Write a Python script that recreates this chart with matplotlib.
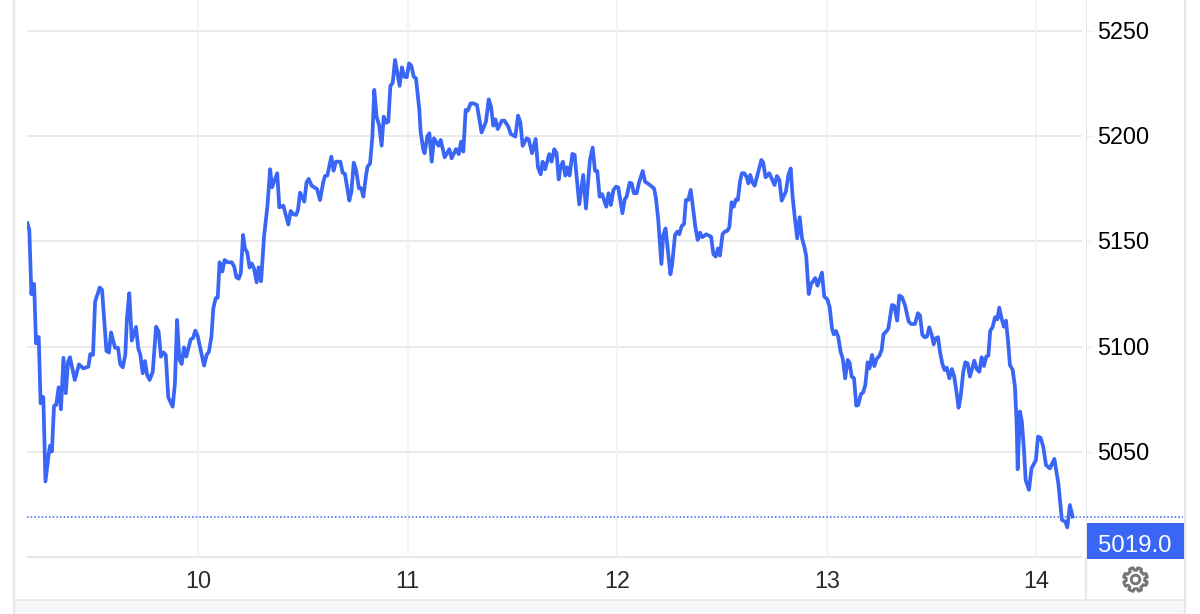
import numpy as np
import matplotlib
matplotlib.use("Agg")
import matplotlib.pyplot as plt
from matplotlib.patches import Rectangle, Polygon, Circle
from matplotlib.transforms import ScaledTranslation

plt.rcParams["font.family"] = ["Liberation Sans", "DejaVu Sans"]

days = [
    9.186, 9.195, 9.205, 9.210, 9.213, 9.218, 9.227, 9.233, 9.240, 9.249,
    9.256, 9.262, 9.272, 9.288, 9.294, 9.303, 9.313, 9.323, 9.335, 9.346,
    9.358, 9.369, 9.380, 9.389, 9.412, 9.432, 9.453, 9.477, 9.486, 9.499,
    9.509, 9.531, 9.542, 9.563, 9.575, 9.585, 9.604, 9.618, 9.629, 9.641,
    9.653, 9.661, 9.672, 9.684, 9.704, 9.715, 9.725, 9.736, 9.747, 9.757,
    9.769, 9.784, 9.800, 9.812, 9.823, 9.835, 9.846, 9.858, 9.879, 9.890,
    9.900, 9.911, 9.922, 9.933, 9.944, 9.965, 9.976, 9.987, 9.997, 10.029,
    10.041, 10.052, 10.064, 10.073, 10.084, 10.094, 10.103, 10.116, 10.127, 10.140,
    10.161, 10.173, 10.183, 10.194, 10.204, 10.215, 10.224, 10.235, 10.246, 10.256,
    10.267, 10.280, 10.289, 10.301, 10.315, 10.331, 10.344, 10.353, 10.363, 10.378,
    10.388, 10.407, 10.431, 10.442, 10.455, 10.468, 10.477, 10.487, 10.507, 10.518,
    10.528, 10.542, 10.568, 10.582, 10.598, 10.606, 10.617, 10.636, 10.647, 10.658,
    10.679, 10.690, 10.701, 10.722, 10.732, 10.743, 10.754, 10.768, 10.779, 10.789,
    10.802, 10.809, 10.821, 10.832, 10.841, 10.852, 10.864, 10.876, 10.886, 10.897,
    10.908, 10.918, 10.929, 10.940, 10.951, 10.962, 10.973, 10.984, 10.996, 11.007,
    11.018, 11.029, 11.040, 11.056, 11.062, 11.075, 11.081, 11.094, 11.104, 11.115,
    11.126, 11.147, 11.158, 11.177, 11.199, 11.210, 11.231, 11.244, 11.255, 11.266,
    11.277, 11.287, 11.301, 11.314, 11.331, 11.353, 11.374, 11.387, 11.398, 11.409,
    11.419, 11.430, 11.450, 11.462, 11.481, 11.492, 11.514, 11.527, 11.538, 11.549,
    11.568, 11.578, 11.594, 11.611, 11.622, 11.635, 11.644, 11.656, 11.676, 11.687,
    11.700, 11.711, 11.721, 11.730, 11.741, 11.753, 11.762, 11.773, 11.786, 11.797,
    11.819, 11.838, 11.851, 11.870, 11.883, 11.894, 11.905, 11.916, 11.928, 11.948,
    11.959, 11.970, 11.982, 11.994, 12.005, 12.025, 12.036, 12.045, 12.060, 12.069,
    12.080, 12.093, 12.104, 12.122, 12.133, 12.152, 12.176, 12.185, 12.196, 12.211,
    12.220, 12.231, 12.254, 12.262, 12.276, 12.287, 12.296, 12.308, 12.319, 12.328,
    12.339, 12.351, 12.360, 12.373, 12.384, 12.395, 12.406, 12.425, 12.448, 12.459,
    12.470, 12.481, 12.490, 12.503, 12.514, 12.525, 12.535, 12.546, 12.556, 12.567,
    12.576, 12.586, 12.595, 12.607, 12.618, 12.626, 12.635, 12.646, 12.656, 12.688,
    12.697, 12.708, 12.726, 12.751, 12.762, 12.774, 12.785, 12.805, 12.817, 12.828,
    12.837, 12.847, 12.859, 12.871, 12.882, 12.893, 12.902, 12.914, 12.925, 12.945,
    12.956, 12.977, 12.988, 13.003, 13.014, 13.025, 13.033, 13.044, 13.055, 13.066,
    13.076, 13.088, 13.100, 13.109, 13.119, 13.130, 13.141, 13.150, 13.163, 13.173,
    13.184, 13.195, 13.204, 13.216, 13.227, 13.238, 13.251, 13.262, 13.271, 13.284,
    13.294, 13.311, 13.322, 13.336, 13.346, 13.359, 13.373, 13.391, 13.403, 13.421,
    13.435, 13.445, 13.456, 13.467, 13.478, 13.489, 13.500, 13.510, 13.519, 13.531,
    13.540, 13.551, 13.562, 13.573, 13.585, 13.597, 13.608, 13.620, 13.629, 13.639,
    13.651, 13.661, 13.672, 13.683, 13.704, 13.715, 13.728, 13.739, 13.750, 13.761,
    13.771, 13.780, 13.791, 13.803, 13.814, 13.823, 13.834, 13.845, 13.855, 13.866,
    13.874, 13.887, 13.898, 13.906, 13.911, 13.922, 13.931, 13.941, 13.949, 13.965,
    13.977, 13.998, 14.008, 14.020, 14.033, 14.046, 14.065, 14.086, 14.105, 14.122,
    14.138, 14.148, 14.160, 14.173,
]

prices = [
    5158.6, 5155.5, 5125.0, 5129.8, 5125.0, 5129.8, 5101.6, 5104.8, 5104.5, 5073.1,
    5076.3, 5076.0, 5036.0, 5049.4, 5053.0, 5050.2, 5071.9, 5072.3, 5080.7, 5070.3,
    5094.7, 5077.9, 5092.9, 5095.0, 5084.2, 5091.6, 5089.7, 5090.5, 5096.5, 5096.1,
    5121.4, 5128.1, 5127.0, 5098.0, 5097.2, 5106.8, 5099.5, 5099.5, 5091.6, 5090.2,
    5096.1, 5113.5, 5125.4, 5102.9, 5109.4, 5099.2, 5096.1, 5087.4, 5093.2, 5086.6,
    5084.2, 5088.1, 5109.5, 5107.2, 5095.3, 5097.3, 5096.1, 5076.0, 5071.5, 5082.6,
    5112.7, 5094.0, 5091.8, 5099.7, 5095.3, 5103.5, 5104.1, 5107.6, 5105.6, 5091.0,
    5096.1, 5097.6, 5104.8, 5118.2, 5123.0, 5123.3, 5140.1, 5135.7, 5141.2, 5140.1,
    5140.1, 5138.0, 5133.0, 5132.3, 5134.9, 5153.1, 5146.7, 5144.7, 5137.6, 5139.6,
    5137.2, 5130.6, 5137.7, 5131.1, 5152.3, 5166.6, 5184.3, 5175.7, 5178.4, 5182.4,
    5166.2, 5167.0, 5158.0, 5164.5, 5162.9, 5162.6, 5165.0, 5173.2, 5168.9, 5178.1,
    5179.7, 5176.5, 5174.9, 5169.7, 5178.4, 5181.1, 5181.3, 5190.3, 5183.6, 5187.9,
    5187.9, 5182.7, 5182.1, 5169.4, 5173.7, 5187.4, 5184.0, 5175.2, 5175.2, 5171.3,
    5181.6, 5185.5, 5187.1, 5199.8, 5222.0, 5209.3, 5205.3, 5195.5, 5209.3, 5206.4,
    5206.9, 5223.9, 5225.4, 5236.2, 5229.9, 5223.9, 5232.7, 5228.3, 5228.0, 5234.6,
    5233.4, 5228.3, 5227.5, 5212.5, 5202.2, 5193.5, 5191.9, 5199.8, 5201.4, 5187.9,
    5199.0, 5195.5, 5198.2, 5190.0, 5193.8, 5189.5, 5193.9, 5191.5, 5197.4, 5192.7,
    5212.5, 5212.1, 5215.6, 5215.6, 5214.8, 5201.8, 5206.9, 5217.5, 5214.0, 5205.0,
    5208.0, 5203.4, 5207.4, 5207.4, 5204.5, 5201.1, 5199.8, 5209.8, 5206.6, 5195.4,
    5199.0, 5198.5, 5191.9, 5198.7, 5185.2, 5181.9, 5187.9, 5184.3, 5191.5, 5187.9,
    5193.8, 5191.9, 5179.5, 5185.2, 5187.9, 5181.3, 5185.2, 5181.3, 5191.6, 5191.1,
    5167.6, 5181.6, 5165.7, 5188.7, 5194.6, 5183.6, 5183.5, 5171.3, 5172.5, 5166.5,
    5172.9, 5167.3, 5174.4, 5176.0, 5175.7, 5163.4, 5170.0, 5171.3, 5177.9, 5177.6,
    5172.9, 5172.9, 5177.9, 5183.5, 5178.4, 5177.1, 5175.2, 5170.5, 5160.2, 5139.3,
    5153.1, 5156.2, 5134.4, 5138.8, 5153.1, 5154.7, 5153.4, 5157.3, 5158.3, 5169.7,
    5169.7, 5174.5, 5167.3, 5157.0, 5150.7, 5154.2, 5152.0, 5153.4, 5152.3, 5144.0,
    5142.8, 5146.7, 5143.3, 5153.5, 5154.7, 5155.0, 5156.7, 5168.6, 5166.5, 5170.0,
    5169.7, 5178.4, 5182.4, 5182.4, 5180.5, 5177.6, 5181.6, 5177.9, 5176.5, 5188.7,
    5187.4, 5180.5, 5182.4, 5176.8, 5181.1, 5179.2, 5169.4, 5173.7, 5181.6, 5184.7,
    5171.3, 5161.8, 5151.5, 5161.5, 5151.5, 5147.5, 5143.1, 5125.0, 5129.8, 5132.6,
    5129.0, 5135.2, 5123.8, 5122.5, 5118.7, 5108.7, 5105.9, 5107.5, 5104.5, 5097.7,
    5094.5, 5085.0, 5093.7, 5092.4, 5085.8, 5085.0, 5072.0, 5072.3, 5077.5, 5078.2,
    5081.8, 5092.6, 5089.7, 5096.1, 5090.8, 5094.2, 5095.7, 5098.4, 5106.0, 5107.2,
    5108.7, 5119.8, 5119.5, 5112.4, 5124.3, 5123.5, 5119.8, 5111.9, 5110.8, 5110.8,
    5115.9, 5114.8, 5105.6, 5104.5, 5104.8, 5109.2, 5105.9, 5101.1, 5104.0, 5104.5,
    5097.7, 5092.1, 5088.9, 5090.0, 5085.0, 5089.4, 5085.8, 5077.9, 5071.0, 5076.3,
    5087.8, 5092.6, 5092.1, 5085.8, 5093.4, 5089.4, 5088.1, 5095.0, 5090.8, 5095.3,
    5095.7, 5107.6, 5109.2, 5114.0, 5113.0, 5118.6, 5113.5, 5109.5, 5112.4, 5101.6,
    5091.3, 5089.0, 5081.0, 5063.6, 5041.8, 5069.2, 5064.4, 5051.0, 5036.7, 5032.0,
    5042.2, 5046.2, 5057.3, 5056.8, 5052.5, 5043.8, 5042.2, 5046.7, 5035.1, 5017.7,
    5016.9, 5014.2, 5024.8, 5019.3,
]

x_ticks = [10, 11, 12, 13, 14]
y_ticks = [5050, 5100, 5150, 5200, 5250]
last_price = 5019.0
last_label = "5019.0"

BLUE = "#3a66f6"
GRID = "#e8e8ea"
VGRID = "#eef3f8"
BORDER = "#e6e7ea"

W, H = 1200, 614
fig = plt.figure(figsize=(W / 100, H / 100), dpi=100)

ax = fig.add_axes([27 / W, (H - 557) / H, (1086 - 27) / W, 557 / H])
ax.set_xlim(9.184, 14.237)
ax.set_ylim(5000.1, 5264.7)
for s in ax.spines.values():
    s.set_visible(False)

ax.set_xticks(x_ticks)
ax.set_yticks(y_ticks)
ax.yaxis.tick_right()
ax.tick_params(axis="x", length=0, labelsize=16.8, pad=9.3, labelcolor="#2b2b2b")
ax.tick_params(axis="y", length=5, width=1, color="#f0f0f2", labelsize=16.8, pad=3, labelcolor="#000000")
ax.grid(True, axis="x", color=VGRID, lw=1.2, zorder=0)
ax.hlines(y_ticks, 9.184, 14.22, color=GRID, lw=1.3, zorder=1)
ax.hlines([5000.1], 9.184, 14.22, color=GRID, lw=1.6, zorder=1, clip_on=False)

# y labels sit one pixel higher in the original
for lab in ax.get_yticklabels():
    lab.set_transform(lab.get_transform() + ScaledTranslation(0, 1 / 100, fig.dpi_scale_trans))

ax.plot(days, prices, color=BLUE, lw=2.7, solid_joinstyle="round", zorder=3)

# dotted last price line, runs on past the axis up to the right border
ax.plot([0, 1.0916], [last_price, last_price], transform=ax.get_yaxis_transform(),
        color=BLUE, lw=1.1, ls=(0, (1, 1.4)), clip_on=False, zorder=2)

# page chrome in pixel coordinates
ui = fig.add_axes([0, 0, 1, 1], zorder=-1)
ui.set_xlim(0, W)
ui.set_ylim(H, 0)
ui.axis("off")
ui.add_patch(Rectangle((14, 600), 1171, 14, color="#f5f6f8", lw=0))
ui.plot([14, 14], [0, 614], color=BORDER, lw=1.5)
ui.plot([1185, 1185], [0, 614], color=BORDER, lw=1.5)
ui.plot([1086, 1086], [0, 600], color=BORDER, lw=1.5)
ui.plot([14, 1185], [600, 600], color=BORDER, lw=1.2)

top = fig.add_axes([0, 0, 1, 1], zorder=5)
top.set_xlim(0, W)
top.set_ylim(H, 0)
top.axis("off")
top.patch.set_alpha(0)
top.add_patch(Rectangle((1087, 523), 97, 36, color=BLUE, lw=0))
top.text(1135, 546, last_label, color="white", fontsize=17.3, ha="center", va="center")

# settings gear
ang = np.linspace(0, 2 * np.pi, 96, endpoint=False)
rad = np.where(((ang + np.pi / 8 + np.pi / 16) % (np.pi / 4)) < np.pi / 8, 12, 9.3)
top.add_patch(Polygon(np.c_[1135.5 + rad * np.cos(ang), 579.5 + rad * np.sin(ang)],
                      closed=True, fill=False, ec="#777777", lw=2.1, joinstyle="round"))
top.add_patch(Circle((1135.5, 579.5), 4.3, fill=False, ec="#777777", lw=2.1))

fig.savefig("out.png", dpi=100, facecolor="white")
